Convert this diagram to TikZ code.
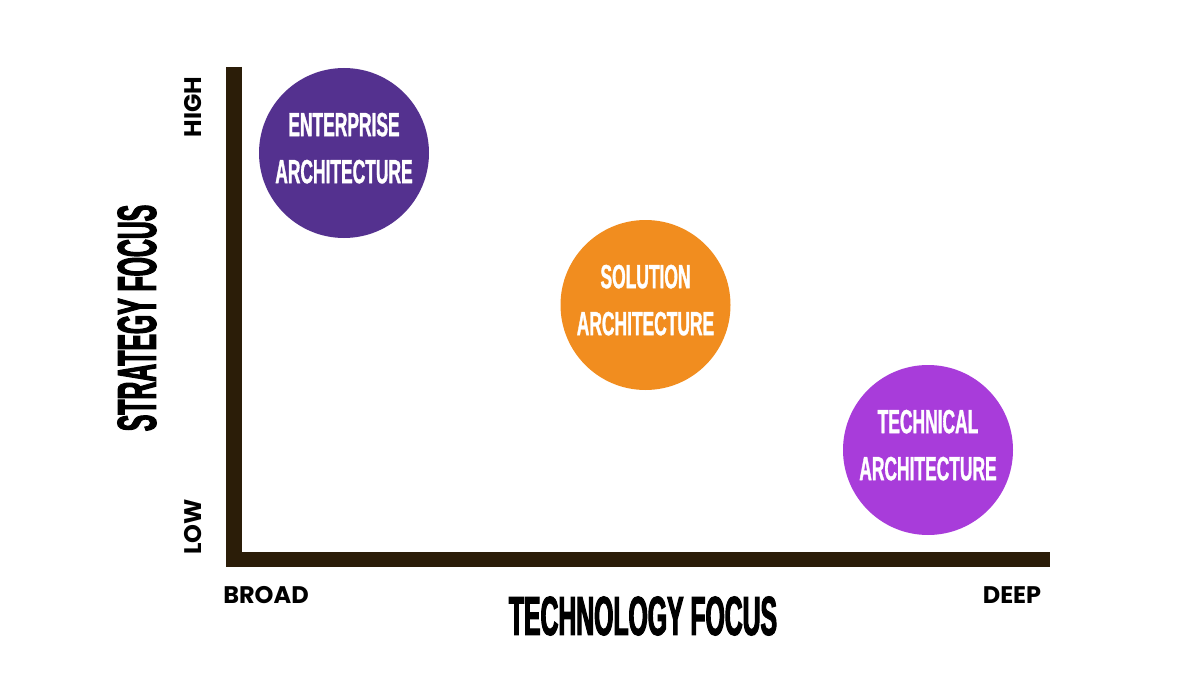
\documentclass[tikz,border=0pt]{standalone}
\usepackage{fontspec}
\newfontfamily\bubblefont[FakeStretch=0.52,FakeBold=1]{Liberation Sans}
\newfontfamily\titlefont[FakeStretch=0.45,FakeBold=2]{Liberation Sans}
\newfontfamily\endfont{Poppins}

\definecolor{axiscol}{HTML}{2B1D08}
\definecolor{entcol}{HTML}{54318F}
\definecolor{solcol}{HTML}{F18D1F}
\definecolor{techcol}{HTML}{A83CDA}

\tikzset{
  bubble/.style={circle, minimum size=170pt, inner sep=0pt, align=center,
    text depth=10pt, text=white,
    font=\bubblefont\bfseries\fontsize{33.5}{47}\selectfont},
  axistitle/.style={font=\titlefont\bfseries\fontsize{55}{55}\selectfont, inner sep=0pt},
  axisend/.style={font=\endfont\bfseries\fontsize{24}{24}\selectfont, inner sep=0pt}
}

\begin{document}
\begin{tikzpicture}[x=1pt,y=-1pt]
\useasboundingbox (0,0) rectangle (1200,674);

\coordinate (top) at (234,67);
\coordinate (origin) at (234,559.5);
\coordinate (right) at (1050,559.5);
\draw[axiscol, line width=15.5pt, miter limit=4] (top) -- (origin) -- (right);

\node[bubble, fill=entcol] (ent) at (344,153) {ENTERPRISE\\ARCHITECTURE};
\node[bubble, fill=solcol] (sol) at (645.5,305) {SOLUTION\\ARCHITECTURE};
\node[bubble, fill=techcol] (tech) at (928,450) {TECHNICAL\\ARCHITECTURE};

\node[axisend, rotate=90] (high) at (193,107) {HIGH};
\node[axisend, rotate=90] (low) at (193,527) {LOW};
\node[axisend] (broad) at (266,595) {BROAD};
\node[axisend] (deep) at (1012,595) {DEEP};

\node[axistitle, rotate=90] (strat) at (137,318) {STRATEGY FOCUS};
\node[axistitle] (techfocus) at (643,616) {TECHNOLOGY FOCUS};

\end{tikzpicture}
\end{document}
